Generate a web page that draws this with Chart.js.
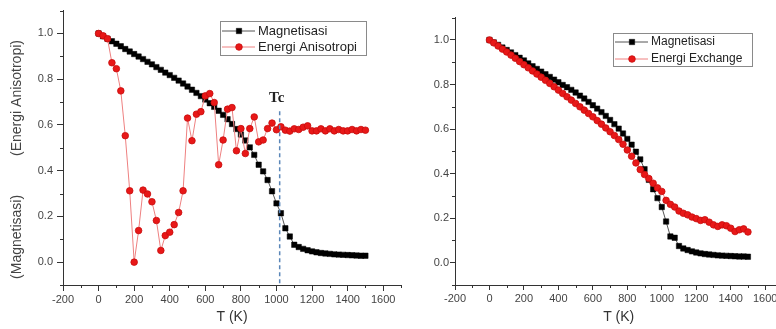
<!DOCTYPE html>
<html>
<head>
<meta charset="utf-8">
<script src="https://cdn.jsdelivr.net/npm/chart.js@4.4.1/dist/chart.umd.min.js"></script>
<style>
  html, body { margin: 0; padding: 0; background: #fff; }
  body { width: 776px; height: 329px; overflow: hidden; position: relative; }
  canvas { position: absolute; top: 0; }
  #kiri { left: 0; }
  #kanan { left: 405px; }
</style>
</head>
<body>
<canvas id="kiri" width="410" height="329"></canvas>
<canvas id="kanan" width="390" height="329"></canvas>
<script>
const suhu = [0, 25, 50, 75, 100, 125, 150, 175, 200, 225, 250, 275, 300, 325, 350, 375, 400, 425, 450, 475,
  500, 525, 550, 575, 600, 625, 650, 675, 700, 725, 750, 775, 800, 825, 850, 875, 900, 925, 950, 975,
  1000, 1025, 1050, 1075, 1100, 1125, 1150, 1175, 1200, 1225, 1250, 1275, 1300, 1325, 1350, 1375, 1400, 1425, 1450, 1475, 1500];

const magKiri = [1.000, 0.988, 0.977, 0.966, 0.955, 0.944, 0.932, 0.921, 0.910, 0.899, 0.888, 0.876, 0.865, 0.853, 0.841, 0.829, 0.818, 0.806, 0.794, 0.781,
  0.768, 0.754, 0.740, 0.726, 0.711, 0.695, 0.679, 0.662, 0.644, 0.625, 0.604, 0.582, 0.558, 0.532, 0.502, 0.469, 0.426, 0.397, 0.359, 0.310,
  0.257, 0.214, 0.148, 0.112, 0.076, 0.066, 0.058, 0.052, 0.047, 0.043, 0.040, 0.038, 0.036, 0.034, 0.033, 0.032, 0.031, 0.030, 0.029, 0.028, 0.028];

const anisotropi = [1.000, 0.990, 0.977, 0.872, 0.846, 0.749, 0.553, 0.312, 0.000, 0.138, 0.315, 0.298, 0.264, 0.182, 0.051, 0.116, 0.131, 0.164, 0.217, 0.312,
  0.630, 0.531, 0.647, 0.658, 0.727, 0.737, 0.698, 0.426, 0.534, 0.669, 0.676, 0.487, 0.584, 0.475, 0.584, 0.635, 0.526, 0.534, 0.584, 0.608,
  0.579, 0.592, 0.577, 0.573, 0.583, 0.580, 0.590, 0.596, 0.574, 0.574, 0.583, 0.574, 0.583, 0.574, 0.580, 0.574, 0.574, 0.580, 0.574, 0.580, 0.577];

const magKanan = [1.000, 0.989, 0.978, 0.966, 0.955, 0.944, 0.932, 0.920, 0.908, 0.895, 0.882, 0.870, 0.858, 0.846, 0.834, 0.822, 0.810, 0.798, 0.788, 0.776,
  0.764, 0.750, 0.737, 0.722, 0.707, 0.692, 0.676, 0.659, 0.641, 0.622, 0.602, 0.580, 0.556, 0.530, 0.498, 0.464, 0.420, 0.372, 0.330, 0.290,
  0.250, 0.185, 0.118, 0.112, 0.075, 0.064, 0.057, 0.051, 0.046, 0.042, 0.039, 0.037, 0.035, 0.033, 0.032, 0.031, 0.030, 0.029, 0.028, 0.028, 0.027];

const exchange = [1.000, 0.987, 0.973, 0.959, 0.946, 0.932, 0.918, 0.903, 0.889, 0.875, 0.861, 0.847, 0.833, 0.819, 0.805, 0.790, 0.775, 0.760, 0.745, 0.730,
  0.715, 0.700, 0.685, 0.670, 0.655, 0.638, 0.622, 0.605, 0.588, 0.571, 0.553, 0.532, 0.506, 0.478, 0.448, 0.418, 0.396, 0.378, 0.357, 0.336,
  0.320, 0.280, 0.262, 0.250, 0.232, 0.222, 0.215, 0.205, 0.198, 0.190, 0.193, 0.182, 0.170, 0.163, 0.170, 0.166, 0.155, 0.140, 0.148, 0.152, 0.138];

// garis Tc
const suhuTc = 1018;
const puncakTc = 0.66;

Chart.defaults.font.family = '"Liberation Sans", Arial, sans-serif';
Chart.defaults.color = '#444';

function pasang(xs, ys) {
  return xs.map((x, i) => ({ x: x, y: ys[i] }));
}

const tickKecil = {
  id: 'tickKecil',
  afterDraw(chart) {
    const ctx = chart.ctx;
    const sx = chart.scales.x, sy = chart.scales.y;
    ctx.save();
    ctx.strokeStyle = '#333';
    ctx.lineWidth = 1;
    sx.ticks.forEach(t => {
      if (t.value % 200 !== 0) {
        const px = Math.round(sx.getPixelForValue(t.value)) + 0.5;
        ctx.beginPath(); ctx.moveTo(px, sx.top); ctx.lineTo(px, sx.top + 3); ctx.stroke();
      }
    });
    sy.ticks.forEach(t => {
      if (Math.round(t.value * 10) % 2 !== 0) {
        const py = Math.round(sy.getPixelForValue(t.value)) + 0.5;
        ctx.beginPath(); ctx.moveTo(sy.right - 3, py); ctx.lineTo(sy.right, py); ctx.stroke();
      }
    });
    ctx.restore();
  }
};

const kotakLegenda = {
  id: 'kotakLegenda',
  afterDatasetsDraw(chart, args, o) {
    const ctx = chart.ctx;
    ctx.save();
    ctx.fillStyle = '#fff';
    ctx.fillRect(o.x, o.y, o.w, o.h);
    ctx.strokeStyle = '#8a8a8a';
    ctx.lineWidth = 1;
    ctx.strokeRect(o.x + 0.5, o.y + 0.5, o.w, o.h);
    ctx.font = o.ukuran + 'px "Liberation Sans", Arial, sans-serif';
    ctx.textBaseline = 'middle';
    [[1, o.baris1], [0, o.baris2]].forEach(([i, dy]) => {
      const ds = chart.data.datasets[i];
      const y = o.y + dy;
      ctx.strokeStyle = ds.borderColor;
      ctx.lineWidth = 1;
      ctx.beginPath(); ctx.moveTo(o.x + 2, y); ctx.lineTo(o.x + 35, y); ctx.stroke();
      ctx.fillStyle = ds.pointBackgroundColor;
      ctx.strokeStyle = ds.pointBorderColor;
      ctx.lineWidth = ds.pointBorderWidth;
      Chart.helpers.drawPoint(ctx, { pointStyle: ds.pointStyle, radius: ds.pointRadius, borderWidth: ds.pointBorderWidth, rotation: 0 }, o.x + 19, y);
      ctx.fillStyle = '#222';
      ctx.fillText(ds.label, o.x + 38, y);
    });
    ctx.restore();
  }
};

const garisTc = {
  id: 'garisTc',
  afterDatasetsDraw(chart) {
    const ctx = chart.ctx;
    const sx = chart.scales.x, sy = chart.scales.y;
    const px = sx.getPixelForValue(suhuTc);
    const atas = sy.getPixelForValue(puncakTc);
    ctx.save();
    ctx.strokeStyle = '#5a86b8';
    ctx.lineWidth = 1.5;
    ctx.setLineDash([4, 3]);
    ctx.beginPath(); ctx.moveTo(px, atas); ctx.lineTo(px, sy.bottom); ctx.stroke();
    ctx.setLineDash([]);
    ctx.fillStyle = '#222';
    ctx.font = 'bold 15px "Liberation Serif", "DejaVu Serif", serif';
    ctx.textAlign = 'center';
    ctx.textBaseline = 'middle';
    ctx.fillText('Tc', px - 3, atas - 13);
    ctx.restore();
  }
};

function seriMerah(label, ys) {
  return {
    label: label, data: pasang(suhu, ys),
    borderColor: '#ee8080', borderWidth: 1,
    pointStyle: 'circle', pointRadius: 3.3, pointBorderWidth: 0.8,
    pointBackgroundColor: '#e81818', pointBorderColor: '#c80c0c'
  };
}

function seriHitam(ys) {
  return {
    label: 'Magnetisasi', data: pasang(suhu, ys),
    borderColor: '#555', borderWidth: 1,
    pointStyle: 'rect', pointRadius: 3.8, pointBorderWidth: 0.5,
    pointBackgroundColor: '#000', pointBorderColor: '#000'
  };
}

function skala(lebarY, panjangTick, padY, judulY) {
  return {
    x: {
      type: 'linear', min: -200, max: 1700,
      ticks: {
        stepSize: 100, autoSkip: false, maxRotation: 0, padding: 2,
        font: { size: 11 }, color: '#444',
        callback: v => (v % 200 === 0 ? String(v) : '')
      },
      grid: {
        drawOnChartArea: false, tickLength: panjangTick,
        tickColor: c => (c.tick && c.tick.value % 200 === 0 ? '#333' : 'rgba(0,0,0,0)')
      },
      border: { color: '#333', width: 1 },
      title: { display: true, text: 'T (K)', font: { size: 14 }, color: '#333', padding: { top: 0, bottom: 3 } },
      afterFit: s => { s.height = 44; }
    },
    y: {
      type: 'linear', min: -0.1, max: 1.1,
      ticks: {
        stepSize: 0.1, autoSkip: false, padding: padY,
        font: { size: 11 }, color: '#444',
        callback: v => {
          const k = Math.round(v * 10);
          return (k % 2 === 0 && k >= 0 && k <= 10) ? v.toFixed(1) : '';
        }
      },
      grid: {
        drawOnChartArea: false, tickLength: panjangTick,
        tickColor: c => (c.tick && Math.round(c.tick.value * 10) % 2 === 0 ? '#333' : 'rgba(0,0,0,0)')
      },
      border: { color: '#333', width: 1 },
      title: judulY,
      afterFit: s => { s.width = lebarY; }
    }
  };
}

new Chart(document.getElementById('kiri'), {
  type: 'line',
  data: { datasets: [seriMerah('Energi Anisotropi', anisotropi), seriHitam(magKiri)] },
  options: {
    responsive: false, animation: false,
    layout: { padding: { left: 0, top: 10, right: 9, bottom: 0 } },
    scales: skala(63, 6, 4, {
      display: true,
      text: '(Magnetisasi)          (Energi Anisotropi)      ',
      font: { size: 14 }, color: '#444', padding: { top: 9, bottom: 0 }
    }),
    plugins: {
      legend: { display: false }, tooltip: { enabled: false },
      kotakLegenda: { x: 220, y: 21, w: 146, h: 34, ukuran: 13, baris1: 10, baris2: 26 }
    }
  },
  plugins: [tickKecil, garisTc, kotakLegenda]
});

new Chart(document.getElementById('kanan'), {
  type: 'line',
  data: { datasets: [seriMerah('Energi Exchange', exchange), seriHitam(magKanan)] },
  options: {
    responsive: false, animation: false,
    layout: { padding: { left: 0, top: 17.7, right: 12.6, bottom: 0 } },
    scales: skala(50, 5, 1, { display: false }),
    plugins: {
      legend: { display: false }, tooltip: { enabled: false },
      kotakLegenda: { x: 208, y: 33, w: 139, h: 33, ukuran: 12, baris1: 9, baris2: 26 }
    }
  },
  plugins: [tickKecil, kotakLegenda]
});
</script>
</body>
</html>
